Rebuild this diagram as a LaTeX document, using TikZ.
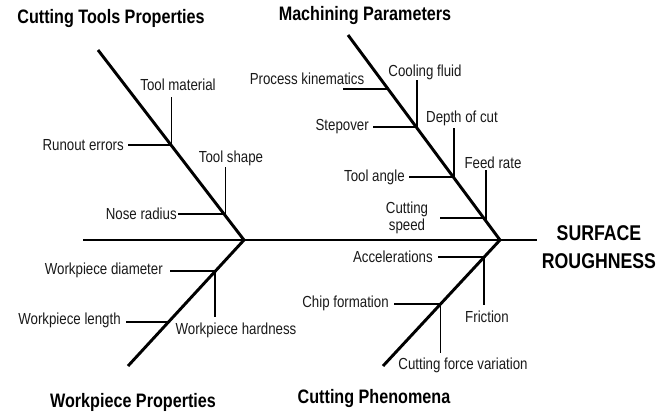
\documentclass[tikz,border=0pt]{standalone}
\usepackage{fontspec}
\setmainfont[FakeStretch=0.83]{Liberation Sans}
\begin{document}
\begin{tikzpicture}[x=0.75pt,y=-0.75pt,
  bone/.style={line width=2.2pt,black},
  twig/.style={line width=0.9pt,black},
  lbl/.style={font=\fontsize{12}{14}\selectfont,inner sep=0pt,text=black!90},
  ttl/.style={font=\fontsize{14.6}{16}\selectfont\bfseries,inner sep=0pt},
  head/.style={font=\fontsize{16}{20.5}\selectfont\bfseries,inner sep=0pt,align=center}]
\useasboundingbox (0,0) rectangle (669,414);
% spine and bones
\coordinate (S0) at (83,240);
\coordinate (S1) at (537,240);
\coordinate (H1) at (244,240);
\coordinate (H2) at (500,240);
\coordinate (A1) at (98,50);
\coordinate (A2) at (348,35);
\coordinate (B1) at (128,366);
\coordinate (B2) at (383,366);
\draw[bone] (S0) -- (S1);
\draw[bone] (A1) -- (H1) -- (B1);
\draw[bone] (A2) -- (H2) -- (B2);
% titles
\node[ttl] (t1) at (111,19) {Cutting Tools Properties};
\node[ttl] (t2) at (365,16) {Machining Parameters};
\node[ttl] (t3) at (133,402) {Workpiece Properties};
\node[ttl] (t4) at (374,399) {Cutting Phenomena};
\node[head] (sr) at (599,247) {SURFACE\\ROUGHNESS};
% Cutting tools properties
\coordinate (j1) at (171.5,145);
\coordinate (e1) at (171.5,97);
\draw[twig] (j1) -- (e1);
\node[lbl] (tm) at (178,85) {Tool material};
\coordinate (e2) at (128,145);
\draw[twig] (j1) -- (e2);
\node[lbl,anchor=east] (re) at (124,145) {Runout errors};
\coordinate (j2) at (225.5,214);
\coordinate (e3) at (225.5,167);
\draw[twig] (j2) -- (e3);
\node[lbl] (ts) at (231,158) {Tool shape};
\coordinate (e4) at (178,214);
\draw[twig] (j2) -- (e4);
\node[lbl,anchor=east] (nr) at (177,214) {Nose radius};
% Machining parameters
\coordinate (j3) at (388,89);
\coordinate (e5) at (343,89);
\draw[twig] (j3) -- (e5);
\node[lbl] (pk) at (307,79) {Process kinematics};
\coordinate (j4) at (417,127);
\coordinate (e6) at (417,80);
\draw[twig] (j4) -- (e6);
\node[lbl] (cf) at (425,72) {Cooling fluid};
\coordinate (e7) at (373,127);
\draw[twig] (j4) -- (e7);
\node[lbl,anchor=east] (sp) at (369,127) {Stepover};
\coordinate (j5) at (454,177);
\coordinate (e8) at (454,128);
\draw[twig] (j5) -- (e8);
\node[lbl] (dc) at (462,118) {Depth of cut};
\coordinate (e9) at (409,177);
\draw[twig] (j5) -- (e9);
\node[lbl,anchor=east] (ta) at (405,177) {Tool angle};
\coordinate (j6) at (486,221);
\coordinate (e10) at (486,170);
\draw[twig] (j6) -- (e10);
\node[lbl] (fr) at (493,163) {Feed rate};
\coordinate (j7) at (484,218);
\coordinate (e11) at (440,218);
\draw[twig] (j7) -- (e11);
\node[lbl,align=center,font=\fontsize{12}{12.8}\selectfont] (cs) at (407,218) {Cutting\\speed};
% Workpiece properties
\coordinate (j8) at (215,271);
\coordinate (e12) at (170,271);
\draw[twig] (j8) -- (e12);
\node[lbl,anchor=east] (wd) at (163,270) {Workpiece diameter};
\coordinate (e13) at (215,317);
\draw[twig] (j8) -- (e13);
\node[lbl] (wh) at (236,330) {Workpiece hardness};
\coordinate (j9) at (168.5,322);
\coordinate (e14) at (126,322);
\draw[twig] (j9) -- (e14);
\node[lbl,anchor=east] (wl) at (121,320) {Workpiece length};
% Cutting phenomena
\coordinate (j10) at (484,257);
\coordinate (e15) at (438,257);
\draw[twig] (j10) -- (e15);
\node[lbl,anchor=east] (ac) at (433,257) {Accelerations};
\coordinate (e16) at (484,305);
\draw[twig] (j10) -- (e16);
\node[lbl] (fi) at (487,317) {Friction};
\coordinate (j11) at (440.5,304);
\coordinate (e17) at (394,304);
\draw[twig] (j11) -- (e17);
\node[lbl,anchor=east] (ch) at (389,303) {Chip formation};
\coordinate (e18) at (440.5,353);
\draw[twig] (j11) -- (e18);
\node[lbl] (cv) at (463,365) {Cutting force variation};
\end{tikzpicture}
\end{document}
